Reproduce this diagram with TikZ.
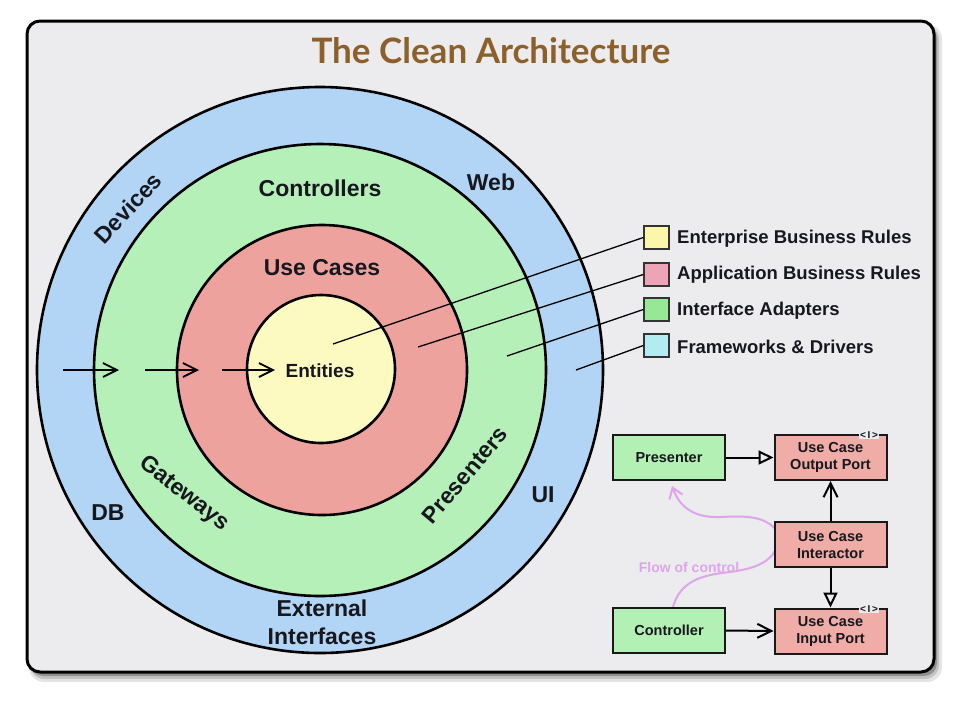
\documentclass[tikz,border=0pt]{standalone}
\usepackage{fontspec}
\setmainfont{Liberation Sans}
\newfontfamily\titlefont{Lato}
\usetikzlibrary{arrows.meta,shapes.geometric}
\definecolor{bgc}{RGB}{236,236,238}
\definecolor{ringblue}{RGB}{178,212,245}
\definecolor{ringgreen}{RGB}{182,240,185}
\definecolor{ringred}{RGB}{238,162,158}
\definecolor{ringyellow}{RGB}{252,250,192}
\definecolor{legyellow}{RGB}{250,246,170}
\definecolor{legpink}{RGB}{236,164,182}
\definecolor{leggreen}{RGB}{150,232,150}
\definecolor{legcyan}{RGB}{178,236,240}
\definecolor{boxgreen}{RGB}{178,240,180}
\definecolor{boxpink}{RGB}{240,172,166}
\definecolor{flowc}{RGB}{222,165,235}
\definecolor{titlec}{RGB}{140,96,42}
\definecolor{txt}{RGB}{22,24,30}
\tikzset{
  ring/.style={circle, draw=black, line width=2.6pt, inner sep=0pt},
  ringlabel/.style={font=\bfseries\fontsize{23}{28}\selectfont, text=txt, inner sep=0pt},
  legbox/.style={draw=black!80, line width=1.4pt, minimum width=25pt, minimum height=23pt, inner sep=0pt},
  legtext/.style={font=\bfseries\fontsize{18.5}{20}\selectfont, anchor=west, inner sep=0pt, text=txt},
  leader/.style={line width=1.3pt, black},
  inarrow/.style={line width=1.8pt, -{Straight Barb[length=14pt, width=14pt, line width=1.8pt]}},
  ucbox/.style={draw=black!90, line width=2pt, minimum width=112pt, minimum height=45pt, inner sep=0pt, align=center, font=\bfseries\fontsize{14.5}{17}\selectfont, text=txt},
  realize/.style={line width=2pt, -{Triangle[open, length=15pt, width=14pt, line width=2pt]}},
  uses/.style={line width=2pt, -{Straight Barb[length=14pt, width=14pt, line width=2pt]}},
  itag/.style={font=\bfseries\fontsize{10}{10}\selectfont, inner sep=0.8pt, fill=bgc, text=txt}
}
\begin{document}
\begin{tikzpicture}[x=1pt,y=-1pt]
\useasboundingbox (0,0) rectangle (960,705);
\fill[white] (0,0) rectangle (960,705);
% frame shadow
\fill[black, opacity=0.10, rounded corners=15pt] (29,24) rectangle (942,682);
\fill[black, opacity=0.15, rounded corners=14pt] (30,25) rectangle (939,679);
\fill[black, opacity=0.25, rounded corners=13pt] (30,25) rectangle (937,676);
\draw[line width=3pt, fill=bgc, rounded corners=13pt] (27,21) rectangle (934,672);

% title
\node[font=\titlefont\bfseries\fontsize{35}{40}\selectfont, text=titlec, anchor=base, inner sep=0pt] (title) at (491,63) {The Clean Architecture};

% rings
\node[ring, fill=ringblue, minimum size=566pt] (fw) at (320,370) {};
\node[ring, fill=ringgreen, minimum size=452pt] (ia) at (320,370) {};
\node[ring, fill=ringred, minimum size=290pt] (ab) at (322,370) {};
\node[ring, fill=ringyellow, minimum size=148pt] (eb) at (321,369) {};

% ring labels
\node[ringlabel] (controllers) at (320,188) {Controllers};
\node[ringlabel] (usecases) at (322,268) {Use Cases};
\node[ringlabel, font=\bfseries\fontsize{19}{22}\selectfont] (entities) at (320,371) {Entities};
\node[ringlabel] (web) at (491,182) {Web};
\node[ringlabel, rotate=47] (devices) at (128,208) {Devices};
\node[ringlabel, rotate=-38] (gateways) at (184,494) {Gateways};
\node[ringlabel] (db) at (108,513) {DB};
\node[ringlabel, rotate=50] (presenters) at (465,475) {Presenters};
\node[ringlabel] (ui) at (543,495) {UI};
\node[ringlabel, align=center] (extif) at (322,622) {External\\Interfaces};

% inward arrows
\coordinate (a1s) at (63,370); \coordinate (a1e) at (119,370);
\coordinate (a2s) at (145,370); \coordinate (a2e) at (199,370);
\coordinate (a3s) at (222,370); \coordinate (a3e) at (275,370);
\draw[inarrow] (a1s) -- (a1e);
\draw[inarrow] (a2s) -- (a2e);
\draw[inarrow] (a3s) -- (a3e);

% legend
\node[legbox, fill=legyellow] (lg1) at (656.5,237.5) {};
\node[legbox, fill=legpink] (lg2) at (656.5,274.5) {};
\node[legbox, fill=leggreen] (lg3) at (656.5,309.5) {};
\node[legbox, fill=legcyan] (lg4) at (656.5,345.5) {};
\node[legtext] (lt1) at (677,239) {Enterprise Business Rules};
\node[legtext] (lt2) at (677,275) {Application Business Rules};
\node[legtext] (lt3) at (677,311) {Interface Adapters};
\node[legtext] (lt4) at (677,347) {Frameworks \& Drivers};
\coordinate (p1) at (333,344);
\coordinate (p2) at (418,347);
\coordinate (p3) at (507,356);
\coordinate (p4) at (576,370);
\draw[leader] (lg1.west) -- (p1);
\draw[leader] (lg2.west) -- (p2);
\draw[leader] (lg3.west) -- (p3);
\draw[leader] (lg4.west) -- (p4);

% flow of control (behind interactor)
\coordinate (fstart) at (673,607);
\coordinate (fend) at (672,486);
\draw[flowc, line width=2pt, -{Straight Barb[length=10pt, width=14pt, line width=2pt]}]
  (fstart) .. controls (680,582) and (700,575) .. (730,572)
  .. controls (760,568) and (772,560) .. (778,545)
  -- (778,532)
  .. controls (765,515) and (745,516) .. (720,517)
  .. controls (695,518) and (680,508) .. (fend);
\node[font=\bfseries\fontsize{14}{16}\selectfont, text=flowc, inner sep=0pt] (flowlabel) at (689,567) {Flow of control};

% use case boxes
\node[ucbox, fill=boxgreen] (presenter) at (669,457.5) {Presenter};
\node[ucbox, fill=boxpink] (outport) at (830.5,457.5) {Use Case\\Output Port};
\node[ucbox, fill=boxpink] (interactor) at (830.5,544.5) {Use Case\\Interactor};
\node[ucbox, fill=boxpink] (inport) at (830.5,631) {Use Case\\Input Port};
\node[ucbox, fill=boxgreen] (controller) at (669,630.5) {Controller};
\node[itag] (tag1) at (869,435) {<\,I\,>};
\node[itag] (tag2) at (869,609) {<\,I\,>};

\draw[realize] (presenter.east) -- (outport.west);
\draw[uses] (interactor.north) -- (outport.south);
\draw[realize] (interactor.south) -- (inport.north);
\draw[uses] (controller.east) -- (inport.west);
\end{tikzpicture}
\end{document}
